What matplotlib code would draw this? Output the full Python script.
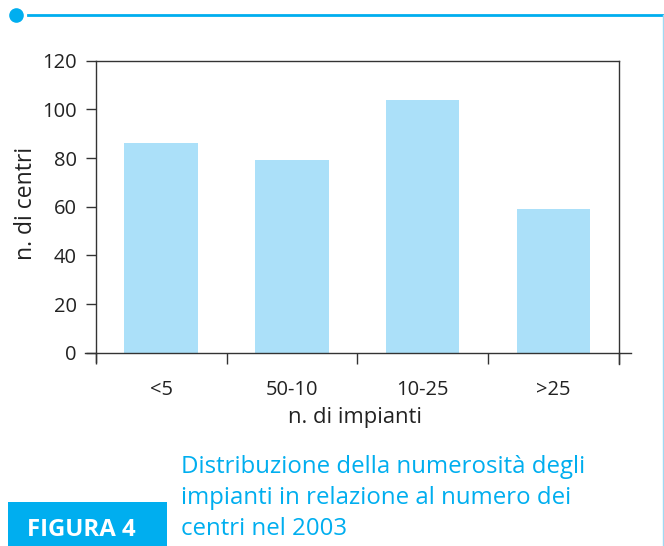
import matplotlib
matplotlib.use("Agg")
import matplotlib.pyplot as plt
from matplotlib.lines import Line2D
from matplotlib.patches import Rectangle

categories = ["<5", "50-10", "10-25", ">25"]
values = [86, 79, 104, 59]
yticks = [0, 20, 40, 60, 80, 100, 120]
xlabel = "n. di impianti"
ylabel = "n. di centri"
caption = ["Distribuzione della numerosità degli",
           "impianti in relazione al numero dei",
           "centri nel 2003"]
fig_tag = "FIGURA 4"

W, H = 664, 546
BLUE = "#00AEEF"
BAR = "#ABE0F9"
DARK = "#333333"

plt.rcParams['font.family'] = ['Open Sans', 'DejaVu Sans']

fig = plt.figure(figsize=(W / 100, H / 100), dpi=100)

def fx(x):
    return x / W

def fy(y):
    return 1 - y / H

left, right, top, bottom = 95.7, 619, 60.7, 352.7
ax = fig.add_axes([fx(left), fy(bottom), fx(right - left), fy(top) - fy(bottom)])

xs = list(range(len(categories)))
ax.bar(xs, values, width=0.56, color=BAR, zorder=1)
ax.set_xlim(-0.5, len(categories) - 0.5)
ax.set_ylim(0, 120)

for s in ["left", "right", "top"]:
    ax.spines[s].set_color(DARK)
    ax.spines[s].set_linewidth(1.0)
ax.spines["bottom"].set_visible(False)
ax.axhline(0, xmin=-0.02, xmax=1.022, color=DARK, lw=1.0, clip_on=False, zorder=3)
ax.plot([-0.5, -0.5], [0, -3.8], color=DARK, lw=1.0, clip_on=False)
ax.plot([3.5, 3.5], [0, -4.6], color=DARK, lw=1.0, clip_on=False)

ax.set_yticks(yticks)
ax.tick_params(axis="y", direction="out", length=7.5, width=1.0, color=DARK,
               labelsize=14.5, pad=6, labelcolor="#222222")

ax.set_xticks([-0.5, 0.5, 1.5, 2.5, 3.5])
ax.set_xticklabels([])
ax.tick_params(axis="x", which="major", direction="out", length=8, width=1.0, color=DARK)
ax.set_xticks(xs, minor=True)
ax.set_xticklabels(categories, minor=True)
ax.tick_params(axis="x", which="minor", length=0, labelsize=14.5, pad=20, labelcolor="#222222")

fig.text(fx(355), fy(418), xlabel, ha="center", va="center", fontsize=15.8, color="#222222")
fig.text(fx(26), fy(203), ylabel, ha="center", va="center", rotation=90, fontsize=16.5, color="#222222")

# decorations
fig.add_artist(Line2D([fx(28), fx(664)], [fy(14.5), fy(14.5)], color=BLUE, lw=2.0))
fig.add_artist(Line2D([fx(15.7)], [fy(14.7)], marker="o", markersize=9.5, color=BLUE, lw=0))
fig.add_artist(Line2D([fx(663.3), fx(663.3)], [fy(14.5), fy(546)], color="#9FD9F3", lw=1.0))

fig.add_artist(Rectangle((fx(8.3), fy(546)), fx(166.7 - 8.3), fy(502.3) - fy(546),
                         transform=fig.transFigure, facecolor=BLUE, edgecolor="none"))
fig.text(fx(26.7), fy(536), fig_tag, ha="left", va="baseline", fontsize=17.3,
         fontweight="bold", color="white")

for line, yb in zip(caption, [473, 504, 535]):
    fig.text(fx(181), fy(yb), line, ha="left", va="baseline", fontsize=17.3, color=BLUE)

fig.savefig("out.png", dpi=100)
